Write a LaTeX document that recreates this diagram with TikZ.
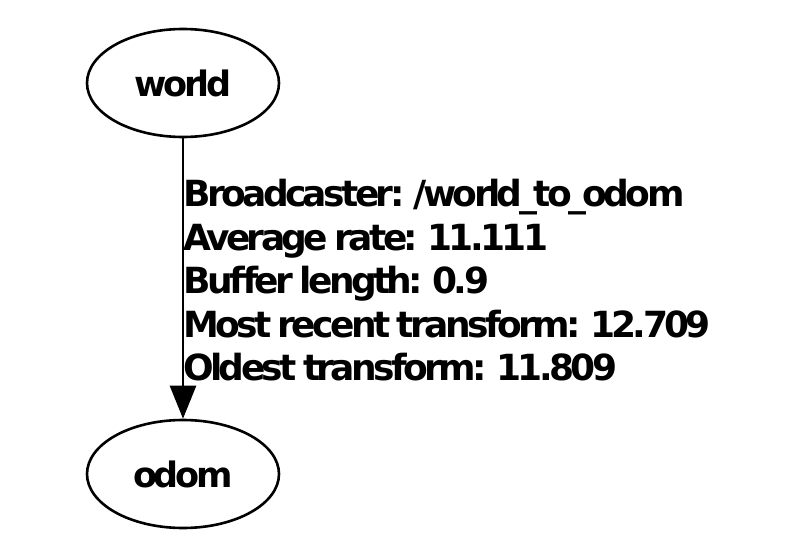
\documentclass[tikz,border=0pt]{standalone}
\usepackage{fontspec}
\setmainfont{DejaVu Sans}[LetterSpace=-10,WordSpace=0.7]
\usetikzlibrary{arrows.meta}
\tikzset{
  frame/.style={x=1pt,y=-1pt},
  tfnode/.style={draw,ellipse,line width=2.6pt,minimum width=192pt,minimum height=108pt,inner sep=0pt,font=\fontsize{35}{40}\selectfont\bfseries},
  tflabel/.style={anchor=north west,align=left,inner sep=0pt,font=\fontsize{36}{43.5}\selectfont\bfseries},
  tfedge/.style={line width=2.6pt,-{Triangle[length=33pt,width=26pt]}}
}
\usetikzlibrary{shapes.geometric}
\begin{document}
\begin{tikzpicture}[frame]
\useasboundingbox[fill=white] (0,0) rectangle (803,559);
\node[tfnode] (world) at (183,83) {world};
\node[tfnode] (odom) at (183,474) {odom};
\draw[tfedge] (world) -- (odom);
\node[tflabel] (lbl) at (183,179) {Broadcaster: /world\_to\_odom\\Average rate: 11.111\\Buffer length: 0.9\\Most recent transform: 12.709\\Oldest transform: 11.809};
\end{tikzpicture}
\end{document}
